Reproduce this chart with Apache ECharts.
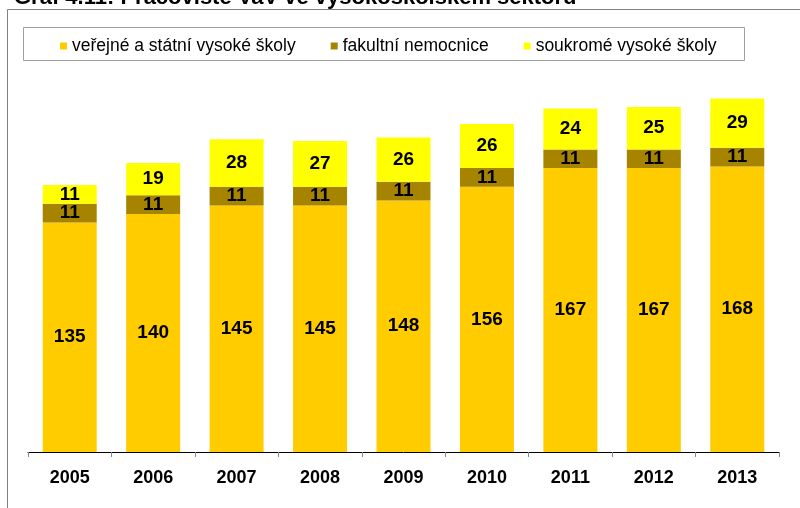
<!DOCTYPE html>
<html>
<head>
<meta charset="utf-8">
<script src="https://cdn.jsdelivr.net/npm/echarts@6/dist/echarts.min.js"></script>
<style>
html,body{margin:0;padding:0;background:#fff;}
#c{width:800px;height:508px;}
</style>
</head>
<body>
<div id="c"></div>
<script>
var titleText = 'Graf 4.11: Pracoviště VaV ve vysokoškolském sektoru';
var years = ['2005','2006','2007','2008','2009','2010','2011','2012','2013'];
var seriesNames = ['veřejné a státní vysoké školy','fakultní nemocnice','soukromé vysoké školy'];
var publicUni = [135,140,145,145,148,156,167,167,168];
var hospitals = [11,11,11,11,11,11,11,11,11];
var privateUni = [11,19,28,27,26,26,24,25,29];
var colors = ['#FFCC00','#A68400','#FFFF00'];

var FONT = "'Liberation Sans', Arial, sans-serif";
var chart = echarts.init(document.getElementById('c'), null, {renderer:'canvas'});
var label = {show:true, position:'inside', color:'#000', fontSize:19, fontWeight:'bold', fontFamily:FONT};
function mk(name, data, color){
  return {name:name, type:'bar', stack:'s', data:data, barWidth:54,
    itemStyle:{color:color}, label:label, emphasis:{disabled:true}};
}
chart.setOption({
  animation:false,
  textStyle:{fontFamily:FONT},
  grid:{left:28, right:21, top:44, bottom:56, containLabel:false},
  legend:{left:60, top:37, padding:0, itemWidth:7, itemHeight:7, itemGap:35, icon:'rect',
    textStyle:{fontSize:17.5, color:'#000', fontFamily:FONT},
    data:seriesNames},
  xAxis:{type:'category', data:years,
    axisLine:{lineStyle:{color:'#000', width:1}},
    axisTick:{show:true, length:5, lineStyle:{color:'#888'}},
    axisLabel:{fontSize:18, fontWeight:'bold', color:'#000', margin:17, fontFamily:FONT}},
  yAxis:{type:'value', min:0, max:240, show:false, splitLine:{show:false}},
  graphic:[
    {type:'text', x:14, y:-13, style:{text:titleText, font:'bold 22px ' + FONT, fill:'#000', verticalAlign:'top'}, silent:true},
    {type:'line', shape:{x1:7.5, y1:9.5, x2:800, y2:9.5}, style:{stroke:'#808080', lineWidth:1}, silent:true},
    {type:'line', shape:{x1:7.5, y1:9.5, x2:7.5, y2:508}, style:{stroke:'#808080', lineWidth:1}, silent:true},
    {type:'rect', shape:{x:23.5, y:27.5, width:721, height:33}, style:{fill:'none', stroke:'#a0a0a0', lineWidth:1}, silent:true}
  ],
  series:[mk(seriesNames[0], publicUni, colors[0]), mk(seriesNames[1], hospitals, colors[1]), mk(seriesNames[2], privateUni, colors[2])]
});
</script>
</body>
</html>
